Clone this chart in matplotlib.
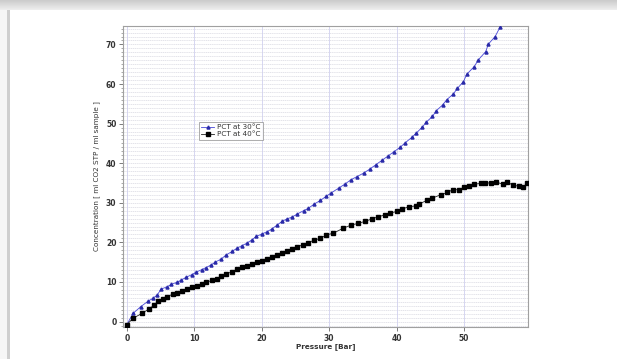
import matplotlib
matplotlib.use("Agg")
import matplotlib.pyplot as plt
from matplotlib.patches import Rectangle
from matplotlib.ticker import MultipleLocator
import numpy as np

# ---------------------------------------------------------------------------
# Data
# ---------------------------------------------------------------------------
p30 = [0.0, 0.95, 2.1, 3.2, 3.9, 4.5, 5.1, 6.0, 6.6, 7.4, 8.1, 8.8, 9.6, 10.3,
       11.1, 11.7, 12.5, 13.1, 14.0, 14.7, 15.6, 16.3, 17.1, 17.8, 18.5, 19.2,
       20.0, 20.8, 21.5, 22.3, 23.0, 23.7, 24.5, 25.3, 26.2, 26.9, 27.8, 28.7,
       29.6, 30.3, 31.4, 32.4, 33.2, 34.1, 35.1, 36.0, 36.9, 37.8, 38.7, 39.6,
       40.5, 41.3, 42.3, 42.9, 43.8, 44.4, 45.3, 45.9, 46.8, 47.4, 48.4, 49.0,
       49.9, 50.4, 51.5, 52.1, 53.2, 53.6, 54.6, 55.3]
c30 = [-0.8, 2.1, 3.8, 5.2, 5.9, 6.7, 8.2, 8.8, 9.4, 9.9, 10.5, 11.2, 11.8, 12.5,
       13.1, 13.6, 14.3, 15.0, 15.8, 16.8, 17.7, 18.5, 19.2, 19.8, 20.6, 21.5,
       22.1, 22.7, 23.4, 24.4, 25.3, 25.9, 26.4, 27.2, 28.0, 28.6, 29.7, 30.6,
       31.7, 32.5, 33.7, 34.8, 35.8, 36.6, 37.5, 38.5, 39.6, 40.7, 41.8, 42.9,
       44.0, 45.2, 46.6, 47.6, 49.1, 50.4, 51.8, 53.3, 54.7, 56.0, 57.5, 58.9,
       60.6, 62.5, 64.4, 66.1, 68.2, 70.1, 72.0, 74.3]

p40 = [0.0, 0.95, 2.3, 3.3, 4.1, 4.6, 5.4, 6.0, 6.8, 7.5, 8.2, 9.0, 9.7, 10.4,
       11.2, 11.8, 12.6, 13.3, 14.0, 14.7, 15.6, 16.3, 17.1, 17.8, 18.5, 19.3,
       20.0, 20.8, 21.5, 22.3, 23.0, 23.7, 24.5, 25.3, 26.1, 26.9, 27.8, 28.7,
       29.6, 30.6, 32.1, 33.3, 34.3, 35.3, 36.3, 37.3, 38.2, 39.0, 40.0, 40.8,
       41.8, 42.8, 43.3, 44.5, 45.3, 46.5, 47.5, 48.3, 49.2, 50.0, 50.7, 51.5,
       52.5, 53.1, 54.0, 54.7, 55.7, 56.3, 57.3, 58.2, 58.8, 59.3]
c40 = [-0.8, 0.85, 2.1, 3.2, 4.2, 5.1, 5.7, 6.3, 6.9, 7.3, 7.8, 8.2, 8.7, 9.0,
       9.4, 9.9, 10.4, 10.8, 11.4, 12.0, 12.6, 13.2, 13.7, 14.1, 14.6, 15.0,
       15.4, 15.8, 16.4, 16.8, 17.4, 17.9, 18.4, 18.9, 19.4, 19.9, 20.6, 21.0,
       21.9, 22.3, 23.6, 24.4, 24.8, 25.3, 25.9, 26.5, 26.9, 27.4, 27.8, 28.4,
       29.0, 29.2, 29.7, 30.6, 31.2, 32.0, 32.6, 33.3, 33.3, 33.9, 34.2, 34.7,
       34.9, 35.0, 35.0, 35.3, 34.7, 35.3, 34.4, 34.2, 34.0, 34.9]

labels = ["PCT at 30\u00b0C", "PCT at 40\u00b0C"]
x_ticks = [0, 10, 20, 30, 40, 50]
y_ticks = [0, 10, 20, 30, 40, 50, 60, 70]

# ---------------------------------------------------------------------------
# Figure
# ---------------------------------------------------------------------------
fig = plt.figure(figsize=(6.17, 3.59), dpi=100)
fig.patch.set_facecolor("white")

# screenshot-like frame: soft grey band on top and a thin grey line on the left
band = np.linspace(0.80, 0.93, 10).reshape(-1, 1)
fig.figimage(np.repeat(np.repeat(band, 617, axis=1)[..., None], 3, axis=2),
             xo=0, yo=349, zorder=0)
fig.patches.append(Rectangle((0.0, 0.0), 0.013, 0.972, transform=fig.transFigure,
                             facecolor="#f6f6f6", edgecolor="none", zorder=0))
fig.patches.append(Rectangle((0.012, 0.0), 0.004, 0.972, transform=fig.transFigure,
                             facecolor="#cfcfcf", edgecolor="none", zorder=0))

ax = fig.add_axes([0.200, 0.090, 0.655, 0.838])
ax.set_facecolor("white")

ax.plot(p30, c30, color="#4848d8", lw=0.6, marker="^", ms=2.2,
        mec="#2a2aa8", mfc="#2a2aa8", label=labels[0], zorder=3)
ax.plot(p40, c40, color="#222222", lw=0.6, marker="s", ms=2.5,
        mec="black", mfc="black", label=labels[1], zorder=3)

ax.set_xlim(-0.5, 59.4)
ax.set_ylim(-1.3, 74.7)
ax.set_xticks(x_ticks)
ax.set_yticks(y_ticks)
ax.yaxis.set_minor_locator(MultipleLocator(1))

# dense horizontal grid every unit, vertical grid at major x ticks
ax.grid(which="both", axis="y", color="#d4d4de", lw=0.45, ls=(0, (2, 1)))
ax.grid(which="major", axis="x", color="#d0d0f0", lw=0.6, ls="-")
ax.set_axisbelow(True)

for s in ax.spines.values():
    s.set_color("#a0a0a0")
    s.set_linewidth(0.8)

ax.tick_params(axis="both", which="major", labelsize=5.5, length=3,
               width=0.6, color="#666666", labelcolor="#333333", pad=2)
ax.tick_params(axis="y", which="minor", length=1.8, width=0.5, color="#888888")
for t in ax.get_xticklabels() + ax.get_yticklabels():
    t.set_fontweight("bold")

ax.set_xlabel("Pressure [Bar]", fontsize=5.2, fontweight="bold",
              color="#333333", labelpad=0)
ax.set_ylabel("Concentration [ ml CO2 STP / ml sample ]", fontsize=5.2,
              color="#333333", labelpad=4)

leg = ax.legend(loc="upper left", bbox_to_anchor=(0.187, 0.68), fontsize=5.2,
                frameon=True, fancybox=False, borderpad=0.3, labelspacing=0.15,
                handlelength=1.8, handletextpad=0.4, borderaxespad=0)
leg.get_frame().set_edgecolor("#888888")
leg.get_frame().set_linewidth(0.6)
for t in leg.get_texts():
    t.set_color("#333333")

fig.savefig("out.png", dpi=100)
